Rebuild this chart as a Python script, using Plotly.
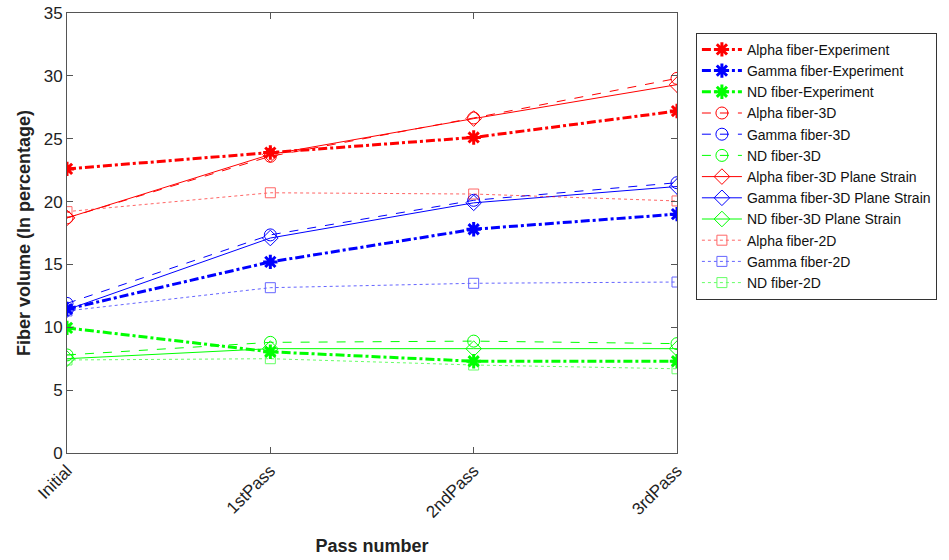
import plotly.graph_objects as go

passes = ["Initial", "1stPass", "2ndPass", "3rdPass"]
x_pos = [1, 2, 3, 4]

alpha_exp = [22.6, 23.9, 25.1, 27.2]
gamma_exp = [11.45, 15.2, 17.8, 19.0]
nd_exp = [9.95, 8.05, 7.3, 7.3]

alpha_3d = [18.7, 23.6, 26.65, 29.8]
gamma_3d = [11.9, 17.35, 20.1, 21.5]
nd_3d = [7.8, 8.8, 8.9, 8.7]

alpha_3dps = [18.7, 23.75, 26.6, 29.3]
gamma_3dps = [11.4, 17.1, 19.9, 21.2]
nd_3dps = [7.5, 8.3, 8.3, 8.3]

alpha_2d = [19.2, 20.7, 20.6, 20.05]
gamma_2d = [11.3, 13.15, 13.5, 13.6]
nd_2d = [7.4, 7.5, 7.0, 6.7]

RED = "rgb(255,0,0)"
BLUE = "rgb(0,0,255)"
GREEN = "rgb(0,255,0)"

fig = go.Figure()

def add(name, y, color, dash, width, symbol, msize, mlw, opacity=1.0):
    fig.add_trace(go.Scatter(
        x=x_pos, y=y, name=name, mode="lines+markers",
        line=dict(color=color, dash=dash, width=width),
        marker=dict(symbol=symbol, size=msize, color=color,
                    line=dict(color=color, width=mlw)),
        opacity=opacity,
    ))

add("Alpha fiber-Experiment", alpha_exp, RED, "dashdot", 3, "asterisk-open", 12, 3)
add("Gamma fiber-Experiment", gamma_exp, BLUE, "dashdot", 3, "asterisk-open", 12, 3)
add("ND fiber-Experiment", nd_exp, GREEN, "dashdot", 3, "asterisk-open", 12, 3)
add("Alpha fiber-3D", alpha_3d, RED, "dash", 1, "circle-open", 12, 1)
add("Gamma fiber-3D", gamma_3d, BLUE, "dash", 1, "circle-open", 12, 1)
add("ND fiber-3D", nd_3d, GREEN, "dash", 1, "circle-open", 12, 1)
add("Alpha fiber-3D Plane Strain", alpha_3dps, RED, "solid", 1, "diamond-open", 12, 1)
add("Gamma fiber-3D Plane Strain", gamma_3dps, BLUE, "solid", 1, "diamond-open", 12, 1)
add("ND fiber-3D Plane Strain", nd_3dps, GREEN, "solid", 1, "diamond-open", 12, 1)
add("Alpha fiber-2D", alpha_2d, RED, "dot", 1, "square-open", 10, 1, 0.6)
add("Gamma fiber-2D", gamma_2d, BLUE, "dot", 1, "square-open", 10, 1, 0.6)
add("ND fiber-2D", nd_2d, GREEN, "dot", 1, "square-open", 10, 1, 0.6)

axis_common = dict(
    showline=True, linecolor="#555", linewidth=1, mirror="ticks",
    ticks="inside", ticklen=6, tickcolor="#555", showgrid=False, zeroline=False,
    automargin=False, ticklabeloverflow="allow",
    tickfont=dict(family="Liberation Sans, Arial", size=17, color="#222"),
)

fig.update_layout(
    width=949, height=560,
    margin=dict(l=67, r=268, t=13, b=107),
    paper_bgcolor="white", plot_bgcolor="white",
    font=dict(family="Liberation Sans, Arial", color="#222"),
    xaxis=dict(
        range=[1, 4], tickvals=x_pos, ticktext=passes, tickangle=-45,
        title=dict(text="<b>Pass number</b>", font=dict(size=18), standoff=18),
        **axis_common,
    ),
    yaxis=dict(
        range=[0, 35], tickvals=[0, 5, 10, 15, 20, 25, 30, 35],
        title=dict(text="<b>Fiber volume (In percentage)</b>", font=dict(size=18), standoff=8),
        **axis_common,
    ),
    legend=dict(
        x=1.031, y=0.955, xanchor="left", yanchor="top",
        bordercolor="#333", borderwidth=1, bgcolor="white",
        font=dict(size=14, color="#111"), tracegroupgap=0,
        itemwidth=40,
    ),
    showlegend=True,
)

fig.write_html(
    "out.html",
    config={"displayModeBar": False},
    post_script="document.body.style.margin='0';document.body.style.overflow='hidden';",
)
